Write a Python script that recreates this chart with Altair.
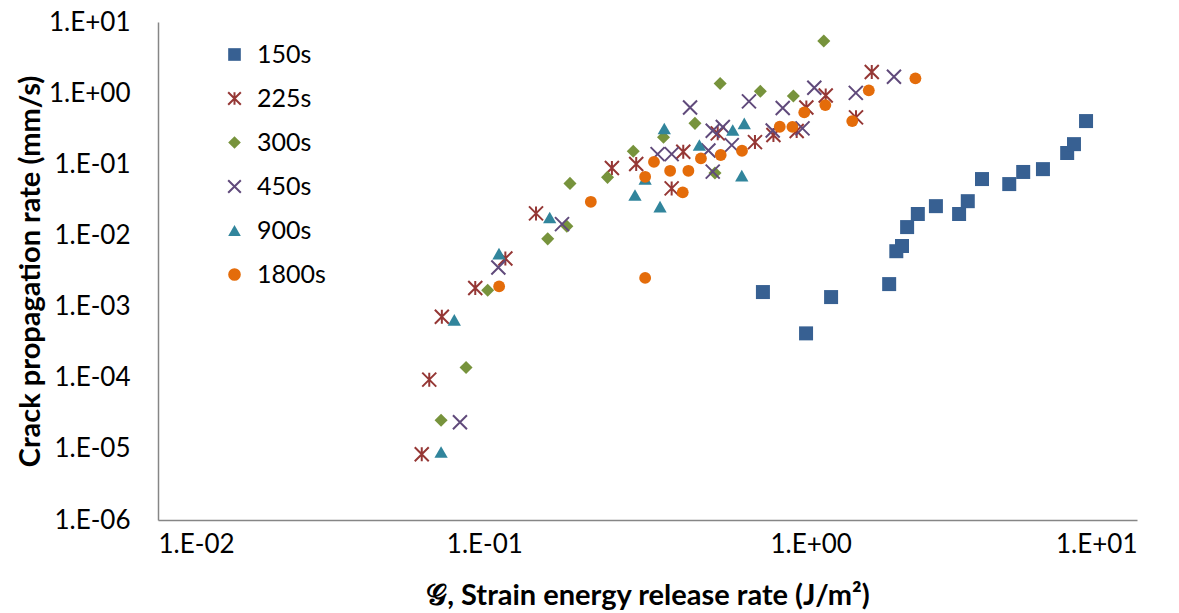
import altair as alt
import pandas as pd

series_names = ["150s", "225s", "300s", "450s", "900s", "1800s"]

# 150s (squares)
g_150 = [0.714, 0.968, 1.155, 1.74, 1.83, 1.905, 1.975, 2.13, 2.42, 2.85, 3.03, 3.35, 4.06, 4.48, 5.15, 6.11, 6.41, 6.98]
v_150 = [1.6e-3, 4.2e-4, 1.36e-3, 2.07e-3, 6.0e-3, 7.1e-3, 1.31e-2, 2.0e-2, 2.58e-2, 2.0e-2, 3.03e-2, 6.2e-2, 5.27e-2, 7.8e-2, 8.55e-2, 0.144, 0.192, 0.405]

# 225s (asterisks)
g_225 = [0.0643, 0.0678, 0.0741, 0.0938, 0.116, 0.144, 0.246, 0.292, 0.375, 0.407, 0.519, 0.675, 0.769, 0.906, 0.970, 1.112, 1.377, 1.539]
v_225 = [8.4e-6, 9.4e-5, 7.2e-4, 1.82e-3, 4.75e-3, 2.04e-2, 8.85e-2, 0.101, 4.58e-2, 0.150, 0.272, 0.205, 0.258, 0.293, 0.627, 0.925, 0.457, 1.98]

# 300s (diamonds)
g_300 = [0.0737, 0.0879, 0.1024, 0.1564, 0.179, 0.183, 0.2385, 0.286, 0.354, 0.442, 0.509, 0.528, 0.701, 0.885, 1.097]
v_300 = [2.52e-5, 1.39e-4, 1.70e-3, 8.95e-3, 1.35e-2, 5.39e-2, 6.55e-2, 0.152, 0.240, 0.376, 7.52e-2, 1.37, 1.06, 0.910, 5.40]

# 450s (crosses)
g_450 = [0.0842, 0.1104, 0.173, 0.3396, 0.375, 0.427, 0.486, 0.501, 0.501, 0.538, 0.573, 0.647, 0.765, 0.821, 0.944, 1.026, 1.375, 1.80]
v_450 = [2.37e-5, 3.55e-3, 1.44e-2, 0.139, 0.139, 0.627, 0.156, 7.89e-2, 0.296, 0.334, 0.186, 0.767, 0.298, 0.617, 0.320, 1.19, 1.01, 1.70]

# 900s (triangles)
g_900 = [0.0737, 0.0809, 0.1109, 0.1586, 0.2895, 0.311, 0.3455, 0.356, 0.456, 0.577, 0.615, 0.626]
v_900 = [9.0e-6, 6.5e-4, 5.55e-3, 1.78e-2, 3.69e-2, 6.19e-2, 2.54e-2, 0.318, 0.186, 0.303, 6.93e-2, 0.376]

# 1800s (circles)
g_1800 = [0.111, 0.212, 0.311, 0.311, 0.331, 0.371, 0.4055, 0.422, 0.461, 0.530, 0.616, 0.804, 0.879, 0.956, 1.109, 1.341, 1.507, 2.094]
v_1800 = [1.92e-3, 2.97e-2, 2.53e-3, 6.67e-2, 0.108, 8.1e-2, 4.03e-2, 8.1e-2, 0.121, 0.135, 0.155, 0.337, 0.336, 0.537, 0.680, 0.405, 1.095, 1.616]

x_ticks = [0.01, 0.1, 1, 10]
x_tick_labels = ["1.E-02", "1.E-01", "1.E+00", "1.E+01"]
y_ticks = [1e-6, 1e-5, 1e-4, 1e-3, 1e-2, 1e-1, 1, 10]
y_tick_labels = ["1.E-06", "1.E-05", "1.E-04", "1.E-03", "1.E-02", "1.E-01", "1.E+00", "1.E+01"]

all_g = [g_150, g_225, g_300, g_450, g_900, g_1800]
all_v = [v_150, v_225, v_300, v_450, v_900, v_1800]
rows = []
for name, gs, vs in zip(series_names, all_g, all_v):
    for g, v in zip(gs, vs):
        rows.append({"series": name, "G": g, "rate": v})
df = pd.DataFrame(rows)

ASTERISK = "M-1,-1L1,1M-1,1L1,-1M0,-1L0,1"
XMARK = "M-1,-1L1,1M-1,1L1,-1"
shapes = ["square", ASTERISK, "diamond", XMARK, "triangle-up", "circle"]
fills = ["#376092", "transparent", "#77933C", "transparent", "#31859C", "#E46C0A"]
strokes = ["transparent", "#953735", "transparent", "#604A7B", "transparent", "transparent"]
sizes = [196, 196, 170, 196, 177, 140]

def js_list(items):
    return "[" + ",".join("'" + s + "'" for s in items) + "]"

x_label_expr = js_list(x_tick_labels) + "[round(log(datum.value)/LN10)+2]"
y_label_expr = js_list(y_tick_labels) + "[round(log(datum.value)/LN10)+6]"

leg = dict(title=None, orient="none", legendX=64, legendY=20, padding=0,
           rowPadding=18, labelOffset=10, symbolSize=160, symbolStrokeWidth=2,
           symbolOpacity=1, labelFont="Lato", labelFontSize=25, labelColor="#000000")

enc = dict(
    x=alt.X("G:Q",
            scale=alt.Scale(type="log", domain=[0.01, 10], nice=False),
            axis=alt.Axis(values=x_ticks, labelExpr=x_label_expr, grid=False,
                          ticks=False, tickSize=0, labelPadding=11,
                          title="𝒢, Strain energy release rate (J/m²)",
                          titleY=75, titleBaseline="middle")),
    y=alt.Y("rate:Q",
            scale=alt.Scale(type="log", domain=[1e-6, 10], nice=False),
            axis=alt.Axis(values=y_ticks, labelExpr=y_label_expr, grid=False,
                          ticks=False, tickSize=0, labelPadding=28,
                          title="Crack propagation rate (mm/s)",
                          titleX=-128, titleBaseline="middle")),
    shape=alt.Shape("series:N", scale=alt.Scale(domain=series_names, range=shapes),
                    legend=alt.Legend(**leg)),
    fill=alt.Fill("series:N", scale=alt.Scale(domain=series_names, range=fills),
                  legend=alt.Legend(**leg)),
    stroke=alt.Stroke("series:N", scale=alt.Scale(domain=series_names, range=strokes),
                      legend=alt.Legend(**leg)),
)

layers = []
for name, sz in zip(series_names, sizes):
    layers.append(
        alt.Chart(df)
        .transform_filter(alt.datum.series == name)
        .mark_point(opacity=1, strokeWidth=2, size=sz)
        .encode(**enc)
    )

chart = (
    alt.layer(*layers)
    .properties(width=979, height=498,
                autosize=alt.AutoSizeParams(type="none"),
                padding={"left": 158, "top": 22, "right": 42, "bottom": 93},
                background="white")
    .configure_axis(labelFont="Lato", labelFontSize=26, labelColor="#000000",
                    titleFont="Lato", titleFontSize=29, titleFontWeight="bold",
                    titleColor="#000000", domainColor="#868686", domainWidth=1.5)
    .configure_view(stroke=None)
)

chart.save("out.html", embed_options={"renderer": "svg", "actions": False})
